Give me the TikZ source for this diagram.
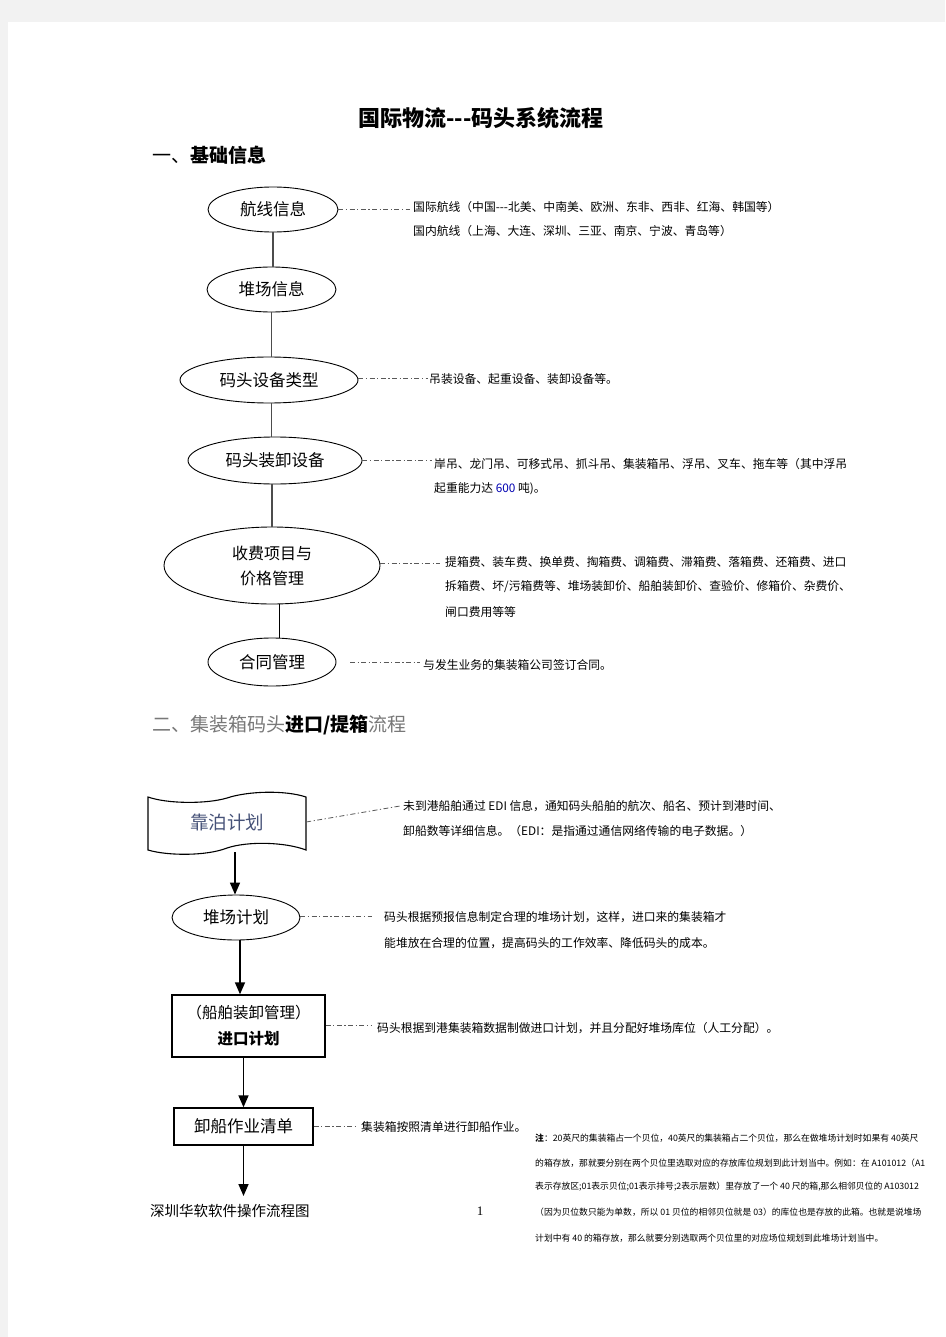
\documentclass[tikz,border=0pt]{standalone}
\usepackage{fontspec}
\setmainfont{Noto Sans CJK SC}
\newfontfamily\latinserif{Liberation Serif}
\usetikzlibrary{shapes.geometric,arrows.meta}
\definecolor{tapecol}{RGB}{70,82,120}
\definecolor{headgray}{RGB}{120,120,120}
\definecolor{pagegray}{RGB}{242,242,242}
\begin{document}
\begin{tikzpicture}[x=1pt,y=-1pt,
 ell/.style={ellipse,draw,line width=0.9pt,inner sep=0pt,font=\fontsize{16.5}{18}\selectfont},
 link/.style={draw=black!70,line width=1.2pt},
 ddot/.style={draw=black!65,line width=0.8pt,dash pattern=on 5pt off 2.5pt on 1.2pt off 2.5pt},
 ann/.style={anchor=west,inner sep=0pt,font=\fontsize{11.8}{14}\selectfont},
 arr/.style={draw=black,line width=1.6pt,-{Triangle[length=12pt,width=10pt]}},
 boxnode/.style={draw,line width=1.4pt,inner sep=0pt},
 notel/.style={anchor=west,inner sep=0pt,font=\fontsize{8.8}{10}\selectfont},
]
% page
\fill[pagegray] (0,0) rectangle (945,1337);
\fill[white] (8,22) rectangle (945,1337);

% headings
\node[inner sep=0pt,font=\fontsize{22}{24}\selectfont\bfseries] (title) at (481,118) {国际物流-{}-{}-码头系统流程};
\node[anchor=west,inner sep=0pt,font=\fontsize{19}{21}\selectfont] (h1) at (152,155) {一、\textbf{基础信息}};

% section 1 nodes
\node[ell,minimum width=130,minimum height=45] (route) at (273,209.5) {航线信息};
\node[ell,minimum width=129,minimum height=45] (yardinfo) at (271.5,289.5) {堆场信息};
\node[ell,minimum width=178,minimum height=46] (eqtype) at (269,380) {码头设备类型};
\node[ell,minimum width=174,minimum height=47] (eqdev) at (275,460.5) {码头装卸设备};
\node[ell,minimum width=216,minimum height=77,align=center,font=\fontsize{16}{25}\selectfont] (fee) at (272,565.5) {收费项目与\\价格管理};
\node[ell,minimum width=128,minimum height=48] (contract) at (272,662) {合同管理};

\draw[link] (route.south) -- (route.south |- yardinfo.north);
\draw[link] (yardinfo.south) -- (yardinfo.south |- eqtype.north);
\draw[link] (yardinfo.south |- eqtype.south) -- (yardinfo.south |- eqdev.north);
\draw[link] (eqdev.south -| fee.north) -- (fee.north);
\draw[draw=black,line width=0.9pt] ([xshift=7pt]fee.south) -- ([xshift=7pt]contract.north);

% section 1 annotations
\coordinate (r1) at (410,209.5);
\coordinate (r2) at (428,378);
\coordinate (r3) at (432,460.5);
\coordinate (r4) at (440,563.5);
\coordinate (r5s) at (350,662);
\coordinate (r5) at (420,662);
\draw[ddot] (route.east) -- (r1);
\draw[ddot] (eqtype.east |- r2) -- (r2);
\draw[ddot] (eqdev.east) -- (r3);
\draw[ddot] (fee.east |- r4) -- (r4);
\draw[ddot] (r5s) -- (r5);

\node[ann] (a1) at (413,207) {国际航线（中国-{}-{}-北美、中南美、欧洲、东非、西非、红海、韩国等）};
\node[ann] (a2) at (413,231) {国内航线（上海、大连、深圳、三亚、南京、宁波、青岛等）};
\node[ann] (b1) at (429,379) {吊装设备、起重设备、装卸设备等。};
\node[ann] (c1) at (434,464) {岸吊、龙门吊、可移式吊、抓斗吊、集装箱吊、浮吊、叉车、拖车等（其中浮吊};
\node[ann] (c2) at (434,489) {起重能力达 {\color{blue!70!black}600} 吨)。};
\node[ann] (d1) at (445,562) {提箱费、装车费、换单费、掏箱费、调箱费、滞箱费、落箱费、还箱费、进口};
\node[ann] (d2) at (445,587) {拆箱费、坏/污箱费等、堆场装卸价、船舶装卸价、查验价、修箱价、杂费价、};
\node[ann] (d3) at (445,612) {闸口费用等等};
\node[ann] (e1) at (423,665) {与发生业务的集装箱公司签订合同。};

% section 2
\node[anchor=west,inner sep=0pt,font=\fontsize{19}{21}\selectfont] (h2) at (152,725) {{\color{headgray}二、集装箱码头}\textbf{进口/提箱}{\color{headgray}流程}};

\draw[line width=1.1pt] (148,797) .. controls (168,804) and (207,804) .. (227,798) .. controls (248,791) and (285,790) .. (306,797) -- (306,850) .. controls (285,842) and (248,841) .. (227,848) .. controls (207,856) and (168,856) .. (148,850) -- cycle;
\node[inner sep=0pt,minimum width=158,minimum height=60,font=\fontsize{18.5}{20}\selectfont,text=tapecol] (berth) at (227,822) {靠泊计划};

\node[ell,minimum width=128,minimum height=45] (yardplan) at (236,917.5) {堆场计划};
\node[boxnode,minimum width=153,minimum height=62,align=center,font=\fontsize{15.5}{26}\selectfont] (plan) at (248.5,1026) {（船舶装卸管理）\\\textbf{进口计划}};
\node[boxnode,minimum width=139,minimum height=37,font=\fontsize{16.5}{18}\selectfont] (list) at (243.5,1126.5) {卸船作业清单};
\coordinate (endpt) at (243.5,1196);

\draw[arr] ([xshift=8pt]berth.south) -- ([xshift=8pt]berth.south |- yardplan.north);
\draw[arr] ([xshift=4pt]yardplan.south) -- ([xshift=4pt]yardplan.south |- plan.north);
\draw[arr] (list.north |- plan.south) -- (list.north);
\draw[arr] (list.south) -- (endpt);

\coordinate (s1) at (400,806);
\coordinate (s2) at (372,916);
\coordinate (s3) at (372,1025);
\coordinate (s4) at (356,1126.5);
\draw[ddot] (berth.east) -- (s1);
\draw[ddot] (yardplan.east |- s2) -- (s2);
\draw[ddot] (plan.east |- s3) -- (s3);
\draw[ddot] (list.east) -- (s4);

\node[ann] (f1) at (403,806) {未到港船舶通过 EDI 信息，通知码头船舶的航次、船名、预计到港时间、};
\node[ann] (f2) at (403,831) {卸船数等详细信息。（EDI：是指通过通信网络传输的电子数据。）};
\node[ann] (g1) at (384,917) {码头根据预报信息制定合理的堆场计划，这样，进口来的集装箱才};
\node[ann] (g2) at (384,943) {能堆放在合理的位置，提高码头的工作效率、降低码头的成本。};
\node[ann] (h1t) at (377,1028) {码头根据到港集装箱数据制做进口计划，并且分配好堆场库位（人工分配）。};
\node[ann] (i1) at (361,1127) {集装箱按照清单进行卸船作业。};

% footer
\node[anchor=west,inner sep=0pt,font=\fontsize{14.5}{16}\selectfont] (foot) at (150,1211) {深圳华软软件操作流程图};
\node[inner sep=0pt,font=\fontsize{13}{15}\latinserif] (pageno) at (480,1211) {1};

% note
\node[notel] (n1) at (535,1138) {\textbf{注}：20英尺的集装箱占一个贝位，40英尺的集装箱占二个贝位，那么在做堆场计划时如果有 40英尺};
\node[notel] (n2) at (535,1163) {的箱存放，那就要分别在两个贝位里选取对应的存放库位规划到此计划当中。例如：在 A101012（A1};
\node[notel] (n3) at (535,1187) {表示存放区;01表示贝位;01表示排号;2表示层数）里存放了一个 40 尺的箱,那么相邻贝位的 A103012};
\node[notel] (n4) at (535,1212) {（因为贝位数只能为单数，所以 01 贝位的相邻贝位就是 03）的库位也是存放的此箱。也就是说堆场};
\node[notel] (n5) at (535,1238) {计划中有 40 的箱存放，那么就要分别选取两个贝位里的对应场位规划到此堆场计划当中。};
\end{tikzpicture}
\end{document}
